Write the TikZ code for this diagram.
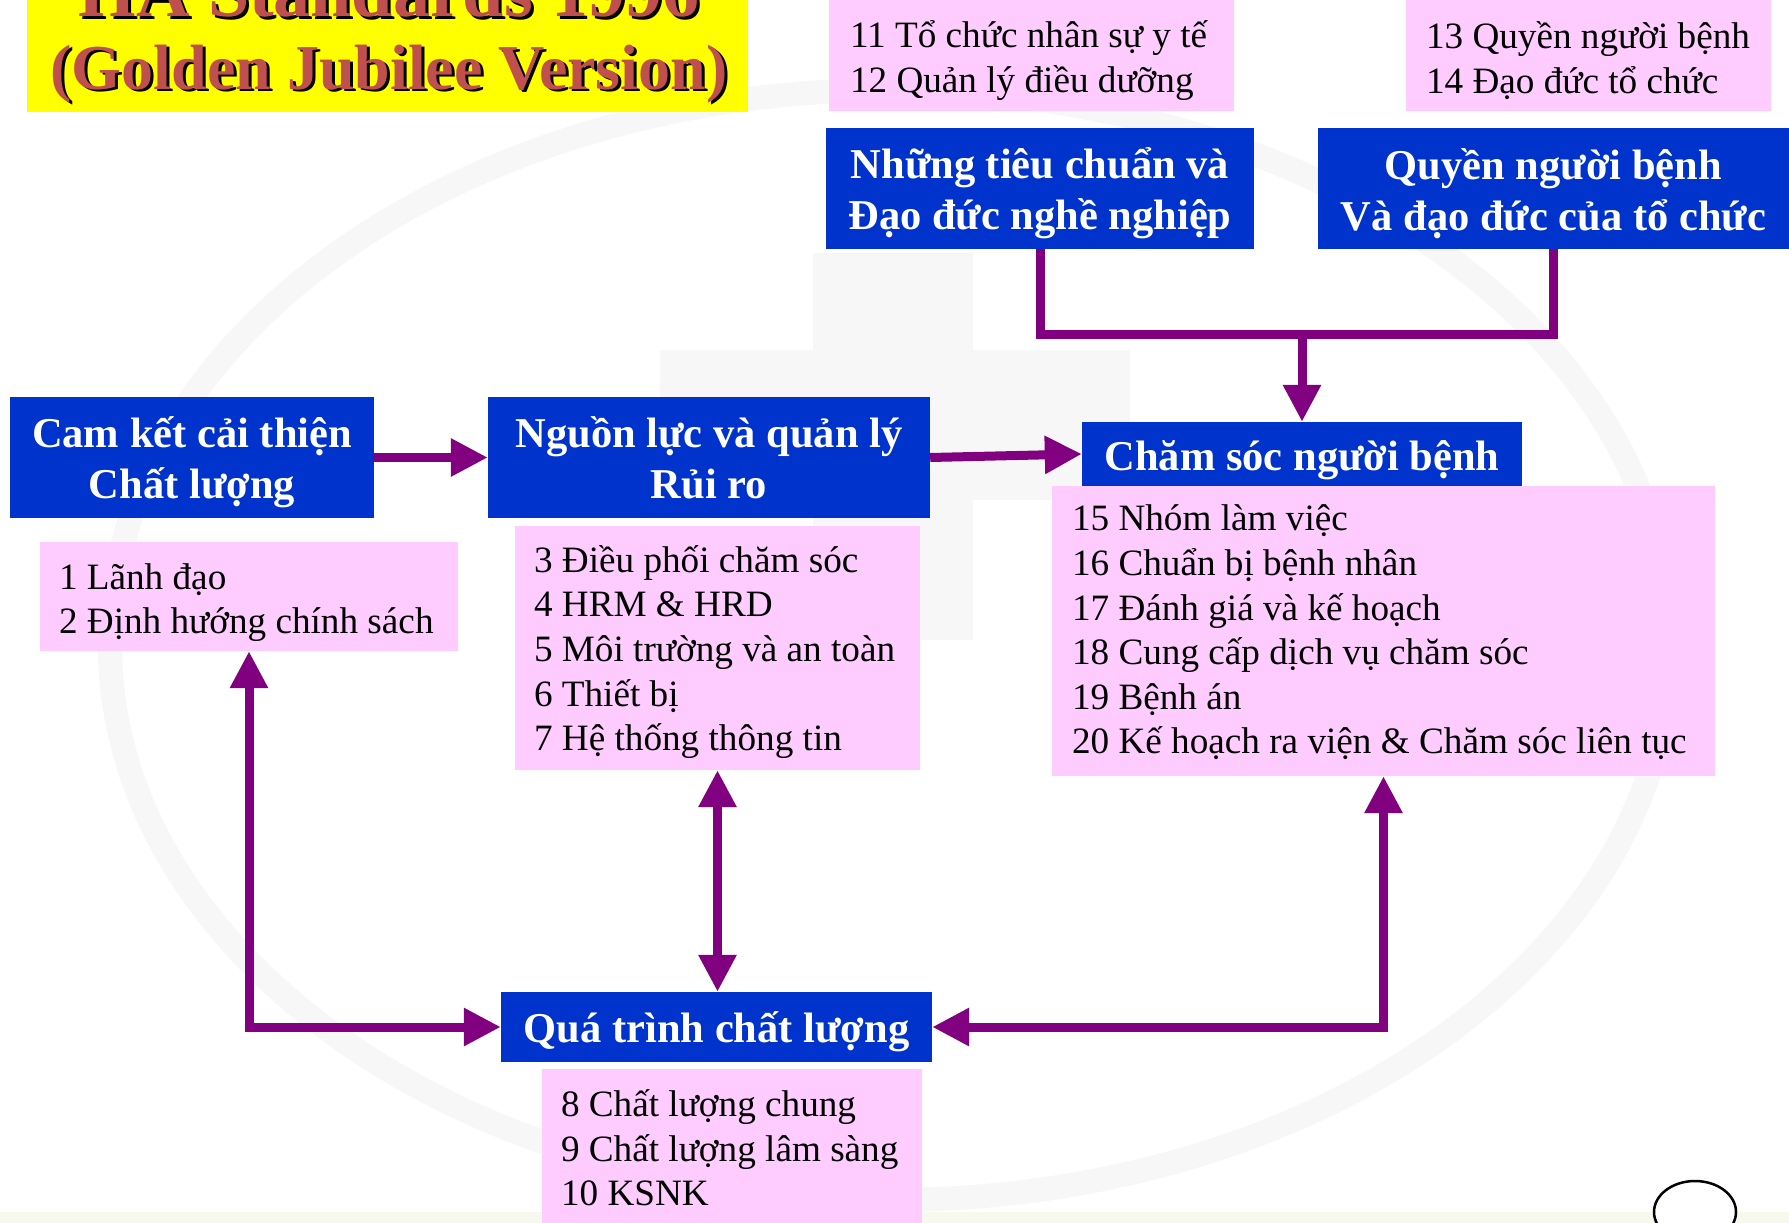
\documentclass[tikz,border=0pt]{standalone}
\usepackage{fontspec}
\setmainfont{Liberation Serif}
\usetikzlibrary{arrows.meta}
\definecolor{cBlue}{HTML}{0033CC}
\definecolor{cPink}{HTML}{FFCCFF}
\definecolor{cPurple}{HTML}{800080}
\definecolor{cTitle}{HTML}{C0504D}
\definecolor{cYellow}{HTML}{FFFF00}
\definecolor{cMark}{HTML}{F7F7F7}
\definecolor{cBand}{HTML}{F7F9EF}
\begin{document}
\begin{tikzpicture}[x=1pt,y=-1pt,
  bluebox/.style={fill=cBlue, inner sep=0pt},
  bluetext/.style={text=white, font=\bfseries\fontsize{42.5}{51}\selectfont, align=center, inner sep=0pt},
  pinkbox/.style={fill=cPink, inner sep=0pt},
  pinktext/.style={text=black, font=\fontsize{37.2}{44.6}\selectfont, align=left, inner sep=0pt, anchor=west},
  titletext/.style={font=\bfseries, anchor=base, inner sep=0pt},
  link/.style={draw=cPurple, line width=9pt},
  tipend/.style={-{Triangle[length=37pt,width=36pt]}},
  tipboth/.style={{Triangle[length=37pt,width=36pt]}-{Triangle[length=37pt,width=36pt]}},
]
\useasboundingbox (0,0) rectangle (1789,1223);
\clip (0,0) rectangle (1789,1223);
\fill[white] (0,0) rectangle (1789,1223);
% faint watermark
\draw[cMark, line width=24pt] (890,645) ellipse [x radius=780pt, y radius=555pt];
\fill[cMark] (813,253) rectangle (973,640);
\fill[cMark] (660,350) rectangle (1130,500);
\fill[cBand] (0,1212) rectangle (1789,1223);

% title
\node[fill=cYellow, minimum width=721pt, minimum height=112pt, inner sep=0pt] (titlebox) at (387.5,56) {};
\node[titletext, text=black, font=\bfseries\fontsize{74}{80}\selectfont] (t1s) at (392,20) {HA Standards 1996};
\node[titletext, text=cTitle, font=\bfseries\fontsize{74}{80}\selectfont] (t1) at (389,17) {HA Standards 1996};
\node[titletext, text=black, font=\bfseries\fontsize{64}{72}\selectfont] (t2s) at (392,92) {(Golden Jubilee Version)};
\node[titletext, text=cTitle, font=\bfseries\fontsize{64}{72}\selectfont] (t2) at (389,89) {(Golden Jubilee Version)};

% pink boxes
\node[pinkbox, minimum width=405pt, minimum height=111pt] (p1112) at (1031.5,55.5) {};
\node[pinktext] (p1112t) at ([xshift=21pt,yshift=-5pt]p1112.west)
  {11 Tổ chức nhân sự y tế\\12 Quản lý điều dưỡng};
\node[pinkbox, minimum width=365pt, minimum height=111pt] (p1314) at (1588.5,55.5) {};
\node[pinktext] (p1314t) at ([xshift=20pt,yshift=-5pt]p1314.west)
  {13 Quyền người bệnh\\14 Đạo đức tổ chức};
\node[pinkbox, minimum width=418pt, minimum height=109pt] (p12) at (249,596.5) {};
\node[pinktext] (p12t) at ([xshift=19pt,yshift=-6pt]p12.west)
  {1 Lãnh đạo\\2 Định hướng chính sách};
\node[pinkbox, minimum width=405pt, minimum height=244pt] (p37) at (717.5,648) {};
\node[pinktext] (p37t) at ([xshift=19pt,yshift=-4pt]p37.west)
  {3 Điều phối chăm sóc\\4 HRM \& HRD\\5 Môi trường và an toàn\\6 Thiết bị\\7 Hệ thống thông tin};
\node[pinkbox, minimum width=663pt, minimum height=290pt] (p1520) at (1383.5,631) {};
\node[pinktext] (p1520t) at ([xshift=20pt,yshift=-1.5pt]p1520.west)
  {15 Nhóm làm việc\\16 Chuẩn bị bệnh nhân\\17 Đánh giá và kế hoạch\\18 Cung cấp dịch vụ chăm sóc\\19 Bệnh án\\20 Kế hoạch ra viện \& Chăm sóc liên tục};
\node[pinkbox, minimum width=380pt, minimum height=158pt] (p810) at (732,1148) {};
\node[pinktext] (p810t) at ([xshift=19pt,yshift=0pt]p810.west)
  {8 Chất lượng chung\\9 Chất lượng lâm sàng\\10 KSNK};

% blue boxes
\node[bluebox, minimum width=428pt, minimum height=121pt] (nt) at (1040,188.5) {};
\node[bluetext] (ntt) at ([yshift=-5pt]nt.center) {Những tiêu chuẩn và\\Đạo đức nghề nghiệp};
\node[bluebox, minimum width=471pt, minimum height=121pt] (qn) at (1553.5,188.5) {};
\node[bluetext] (qnt) at ([yshift=-5pt]qn.center) {Quyền người bệnh\\Và đạo đức của tổ chức};
\node[bluebox, minimum width=364pt, minimum height=121pt] (ck) at (192,457.5) {};
\node[bluetext] (ckt) at ([yshift=-5pt]ck.center) {Cam kết cải thiện\\Chất lượng};
\node[bluebox, minimum width=442pt, minimum height=121pt] (nl) at (709,457.5) {};
\node[bluetext] (nlt) at ([yshift=0pt]nl.center) {Nguồn lực và quản lý\\Rủi ro};
\node[bluebox, minimum width=440pt, minimum height=64pt] (cs) at (1302,454) {};
\node[bluetext] (cst) at ([yshift=-6pt]cs.center) {Chăm sóc người bệnh};
\node[bluebox, minimum width=431pt, minimum height=70pt] (qt) at (716.5,1027) {};
\node[bluetext] (qtt) at ([yshift=-5pt]qt.center) {Quá trình chất lượng};

% connectors
\path (cs.north) ++(0,-87) coordinate (jn);
\draw[link] (nt.south) |- (jn) -| (qn.south);
\draw[link, tipend] (jn) -- (cs.north);
\draw[link, tipend] (ck.east) -- (nl.west);
\draw[link, tipend] (nl.east) -- (cs.west);
\draw[link, tipboth] (p37.south) -- (p37.south |- qt.north);
\draw[link, tipboth] (qt.west) -| (p12.south);
\draw[link, tipboth] (qt.east) -| (p1520.south);

% small ellipse bottom right
\draw[black, line width=2.5pt, fill=white] (1695,1212) ellipse [x radius=41pt, y radius=31pt];
\end{tikzpicture}
\end{document}
